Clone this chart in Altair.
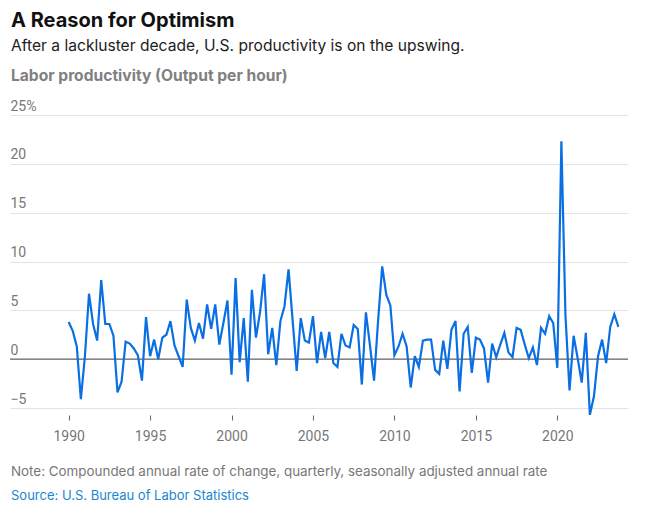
import altair as alt
import pandas as pd

start_year = 1990
# Quarterly labor productivity, % change at annual rate, 1990 Q1 – 2023 Q4
productivity = [
    3.8, 2.9, 1.3, -4.1, 0.3, 6.7, 3.6, 1.9, 8.1, 3.6,
    3.6, 2.4, -3.4, -2.3, 1.8, 1.6, 1.1, 0.4, -2.2, 4.3,
    0.3, 2.0, 0.0, 2.2, 2.5, 3.9, 1.4, 0.3, -0.8, 6.1,
    3.2, 1.9, 3.7, 2.1, 5.6, 3.1, 5.6, 1.5, 3.7, 6.0,
    -1.6, 8.3, -0.3, 4.2, -2.3, 7.1, 2.2, 4.8, 8.7, 0.5,
    3.2, -0.6, 3.9, 5.4, 9.2, 4.0, -1.2, 4.2, 1.9, 1.7,
    4.4, -0.4, 2.8, 0.1, 2.8, -0.4, -0.8, 2.6, 1.4, 1.2,
    3.5, 3.1, -2.6, 4.8, 1.4, -2.2, 4.0, 9.5, 6.6, 5.5,
    0.4, 1.3, 2.6, 1.3, -2.9, 0.3, -0.8, 1.9, 2.0, 2.0,
    -1.1, -1.5, 1.9, -1.0, 3.0, 3.9, -3.3, 2.6, 3.3, -1.4,
    2.2, 2.0, 1.1, -2.4, 1.6, 0.2, 1.5, 2.7, 0.7, 0.2,
    3.2, 3.0, 1.5, 0.1, 1.2, -0.6, 3.2, 2.6, 4.4, 3.7,
    -0.9, 22.3, 4.5, -3.2, 2.4, 0.1, -2.4, 2.7, -5.7, -3.8,
    0.3, 2.0, -0.4, 3.3, 4.6, 3.3,
]
x_ticks = [1990, 1995, 2000, 2005, 2010, 2015, 2020]
y_ticks = [-5, 0, 5, 10, 15, 20, 25]

title = "A Reason for Optimism"
subtitle = "After a lackluster decade, U.S. productivity is on the upswing."
axis_title = "Labor productivity (Output per hour)"
note = "Note: Compounded annual rate of change, quarterly, seasonally adjusted annual rate"
source = "Source: U.S. Bureau of Labor Statistics"

df = pd.DataFrame({
    "t": [start_year + i / 4 for i in range(len(productivity))],
    "v": productivity,
})

FONT = "Inter"
AXFONT = "Roboto"
W, H = 618, 293

x_scale = alt.Scale(domain=[1986.4, 2024.34], nice=False, zero=False)
y_scale = alt.Scale(domain=[-5, 25], nice=False, zero=False)

line = alt.Chart(df).mark_line(color="#0a6fe3", strokeWidth=2.2).encode(
    x=alt.X("t:Q", scale=x_scale,
            axis=alt.Axis(values=x_ticks, format="d", title=None, grid=False,
                          domain=False, ticks=True, tickSize=5, tickColor="#666666",
                          offset=7, labelPadding=9, labelFontSize=14,
                          labelColor="#777777", labelFont=AXFONT)),
    y=alt.Y("v:Q", scale=y_scale,
            axis=alt.Axis(values=y_ticks, title=None, grid=True, gridColor="#e3e3e3",
                          domain=False, ticks=False, labelPadding=0,
                          labelAlign="left", labelBaseline="alphabetic", labelOffset=-5,
                          labelFontSize=14, labelColor="#777777", labelFont=AXFONT,
                          labelExpr="datum.value == 25 ? '25%' : datum.label")),
)

zero = alt.Chart(pd.DataFrame({"z": [0]})).mark_rule(color="#666666", strokeWidth=1.3).encode(
    y=alt.Y("z:Q", scale=y_scale), x=alt.value(0), x2=alt.value(W)
)

def txt(s, y, size, color, weight="normal"):
    return alt.Chart(pd.DataFrame({"s": [s]})).mark_text(
        align="left", baseline="alphabetic", font=FONT, fontSize=size,
        color=color, fontWeight=weight
    ).encode(text="s:N", x=alt.value(1), y=alt.value(y))

texts = [
    txt(title, -88, 20, "#111111", "bold"),
    txt(subtitle, -64, 15.6, "#222222"),
    txt(axis_title, -34, 15.6, "#808080", "bold"),
    txt(note, 361, 13.4, "#777777"),
    txt(source, 385, 13, "#1a86d0"),
]

chart = alt.layer(zero, line, *texts).properties(
    width=W, height=H,
    autosize=alt.AutoSizeParams(type="none"),
    padding={"left": 2, "top": 107, "right": 12, "bottom": 100},
).configure_view(stroke=None)

chart.save("out.html", embed_options={"renderer": "svg", "actions": False})
